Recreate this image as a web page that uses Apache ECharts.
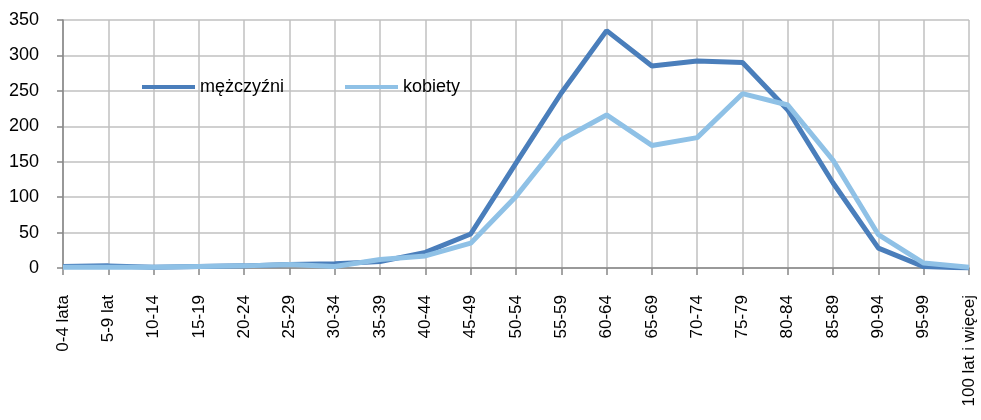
<!DOCTYPE html>
<html>
<head>
<meta charset="utf-8">
<script src="https://cdn.jsdelivr.net/npm/echarts@6/dist/echarts.min.js"></script>
<style>
html,body{margin:0;padding:0;background:#fff;}
#chart{width:981px;height:420px;}
</style>
</head>
<body>
<div id="chart"></div>
<script>
var categories = ['0-4 lata','5-9 lat','10-14','15-19','20-24','25-29','30-34','35-39','40-44','45-49','50-54','55-59','60-64','65-69','70-74','75-79','80-84','85-89','90-94','95-99','100 lat i więcej'];
var men = [2, 3, 1, 2, 3, 5, 6, 9, 22, 48, 148, 247, 335, 285, 292, 290, 223, 120, 28, 2, 0];
var women = [1, 1, 1, 2, 3, 5, 2, 12, 17, 35, 101, 181, 216, 173, 184, 246, 230, 152, 47, 7, 1];
var seriesNames = ['mężczyźni', 'kobiety'];
var yTicks = {min: 0, max: 350, interval: 50};

var FONT = '"Liberation Sans", Arial, sans-serif';
var chart = echarts.init(document.getElementById('chart'));
var legendBase = {
  orient: 'horizontal', top: 78, itemWidth: 53, itemHeight: 4, itemGap: 5,
  icon: 'rect',
  textStyle: {fontFamily: FONT, fontSize: 18, color: '#000', padding: [0,0,0,0]},
  padding: 0, selectedMode: false
};
chart.setOption({
  animation: false,
  backgroundColor: '#fff',
  grid: {left: 63, right: 12, top: 20, bottom: 152, containLabel: false},
  legend: [
    Object.assign({}, legendBase, {left: 142, data: [seriesNames[0]]}),
    Object.assign({}, legendBase, {left: 345, data: [seriesNames[1]]})
  ],
  xAxis: {
    type: 'category', data: categories, boundaryGap: false,
    axisLine: {lineStyle: {color: '#868686', width: 1.5}},
    axisTick: {show: true, alignWithLabel: true, length: 7, lineStyle: {color: '#868686', width: 1.5}},
    axisLabel: {rotate: 90, margin: 27, interval: 0, fontFamily: FONT, fontSize: 17, color: '#000'},
    splitLine: {show: true, lineStyle: {color: '#c0c0c0', width: 1.5}}
  },
  yAxis: {
    type: 'value', min: yTicks.min, max: yTicks.max, interval: yTicks.interval,
    axisLine: {show: true, lineStyle: {color: '#868686', width: 1.5}},
    axisTick: {show: true, length: 6, lineStyle: {color: '#868686', width: 1.5}},
    axisLabel: {margin: 24, fontFamily: FONT, fontSize: 18, color: '#000'},
    splitLine: {show: true, lineStyle: {color: '#c0c0c0', width: 1.5}}
  },
  series: [
    {name: seriesNames[0], type: 'line', data: men, showSymbol: false, symbol: 'none',
     lineStyle: {color: '#4a7ebb', width: 5}, itemStyle: {color: '#4a7ebb'}},
    {name: seriesNames[1], type: 'line', data: women, showSymbol: false, symbol: 'none',
     lineStyle: {color: '#8fc1e6', width: 5}, itemStyle: {color: '#8fc1e6'}}
  ]
});
</script>
</body>
</html>
